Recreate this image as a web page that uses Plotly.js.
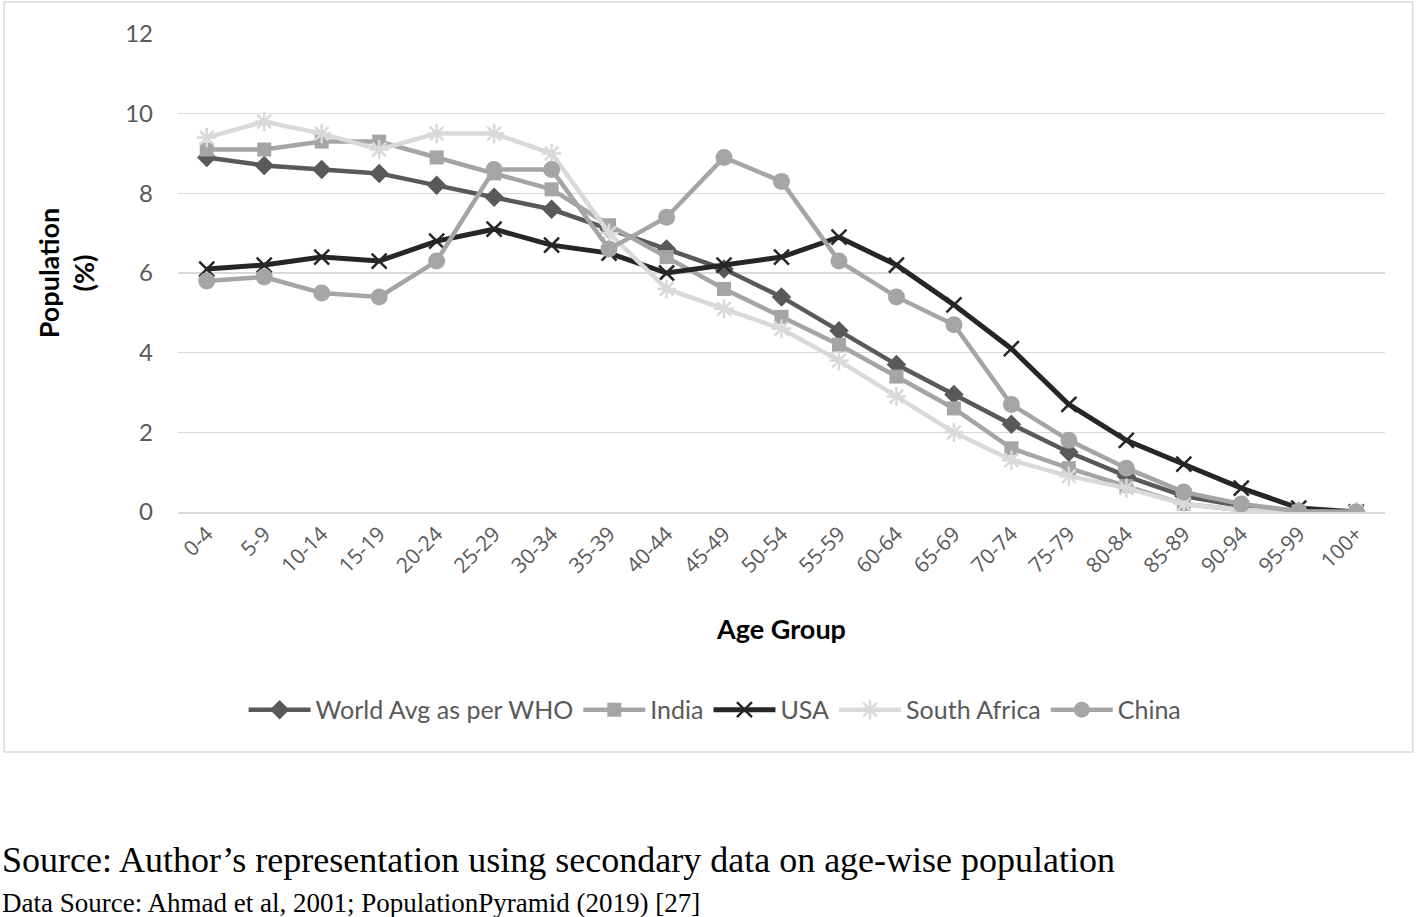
<!DOCTYPE html>
<html>
<head>
<meta charset="utf-8">
<script src="https://cdn.plot.ly/plotly-3.0.1.min.js"></script>
<style>html,body{margin:0;padding:0;background:#fff;}#chart{width:1419px;height:917px;}</style>
</head>
<body>
<div id="chart"></div>
<script>
const ageGroups = ["0-4","5-9","10-14","15-19","20-24","25-29","30-34","35-39","40-44","45-49","50-54","55-59","60-64","65-69","70-74","75-79","80-84","85-89","90-94","95-99","100+"];
const worldAvg = [8.9,8.7,8.6,8.5,8.2,7.9,7.6,7.1,6.6,6.1,5.4,4.55,3.7,2.95,2.2,1.5,0.9,0.4,0.15,0.02,0];
const india = [9.1,9.1,9.3,9.3,8.9,8.5,8.1,7.2,6.4,5.6,4.9,4.2,3.4,2.6,1.6,1.1,0.65,0.2,0.05,0,0];
const usa = [6.1,6.2,6.4,6.3,6.8,7.1,6.7,6.5,6.0,6.2,6.4,6.9,6.2,5.2,4.1,2.7,1.8,1.2,0.6,0.1,0];
const southAfrica = [9.4,9.8,9.5,9.1,9.5,9.5,9.0,7.0,5.6,5.1,4.6,3.8,2.9,2.0,1.3,0.9,0.6,0.2,0.05,0,0];
const china = [5.8,5.9,5.5,5.4,6.3,8.6,8.6,6.6,7.4,8.9,8.3,6.3,5.4,4.7,2.7,1.8,1.1,0.5,0.2,0.02,0];
const seriesNames = ["World Avg as per WHO","India","USA","South Africa","China"];
const yTicks = [0,2,4,6,8,10,12];

const F = "Lato, 'Open Sans', sans-serif";
function tr(name, y, color, sym, msize, lw, mline){
  return {x: ageGroups, y: y, name: name, type: 'scatter', mode: 'lines+markers',
    line: {color: color, width: lw},
    marker: {symbol: sym, size: msize, color: color, line: mline || {width: 0}}};
}
const data = [
  tr(seriesNames[0], worldAvg, '#595959', 'diamond', 15, 4.5),
  tr(seriesNames[1], india, '#A5A5A5', 'square', 14, 4.5),
  tr(seriesNames[2], usa, '#262626', 'x-thin-open', 15, 5, {width: 2.5, color: '#262626'}),
  tr(seriesNames[3], southAfrica, '#D9D9D9', 'asterisk-open', 16, 4.5, {width: 2.5, color: '#D9D9D9'}),
  tr(seriesNames[4], china, '#A5A5A5', 'circle', 17, 4.5)
];

const layout = {
  width: 1419, height: 917,
  margin: {l: 178, r: 34, t: 34, b: 405},
  paper_bgcolor: '#fff', plot_bgcolor: '#fff',
  showlegend: true,
  legend: {orientation: 'h', x: 0.445, xanchor: 'center', y: -0.414, yanchor: 'middle',
    font: {family: F, size: 25, color: '#595959'}, itemwidth: 62},
  xaxis: {type: 'category', range: [-0.5, 20.5], tickangle: -45, showgrid: false,
    showline: true, linecolor: '#D9D9D9', linewidth: 1.5, ticks: '',
    tickfont: {family: "'Open Sans', sans-serif", size: 21, color: '#595959'},
    title: {text: '<b>Age Group</b>', font: {family: F, size: 27, color: '#000'}, standoff: 42}},
  yaxis: {range: [0, 12], tickvals: yTicks, showgrid: true, gridcolor: '#D9D9D9', gridwidth: 1.5,
    zeroline: false, showline: false, ticks: '', ticklabelstandoff: 24,
    tickfont: {family: F, size: 24, color: '#595959'},
    title: {text: '<b>Population<br>(%)</b>', font: {family: F, size: 27, color: '#000'}, standoff: 22}},
  shapes: [{type: 'rect', xref: 'paper', yref: 'paper', x0: -0.144, x1: 1.023, y0: -0.502, y1: 1.067,
    line: {color: '#D9D9D9', width: 1.5}, fillcolor: 'rgba(0,0,0,0)', layer: 'below'}],
  annotations: [
    {xref: 'paper', yref: 'paper', x: -0.1475, y: -0.728, xanchor: 'left', yanchor: 'middle', showarrow: false,
     text: 'Source: Author\u2019s representation using secondary data on age-wise population',
     font: {family: "'Liberation Serif', 'DejaVu Serif', serif", size: 36, color: '#000'}},
    {xref: 'paper', yref: 'paper', x: -0.1475, y: -0.818, xanchor: 'left', yanchor: 'middle', showarrow: false,
     text: 'Data Source: Ahmad et al, 2001; PopulationPyramid (2019) [27]',
     font: {family: "'Liberation Serif', 'DejaVu Serif', serif", size: 27, color: '#000'}}
  ]
};
Plotly.newPlot('chart', data, layout, {displayModeBar: false, staticPlot: true});
</script>
</body>
</html>
